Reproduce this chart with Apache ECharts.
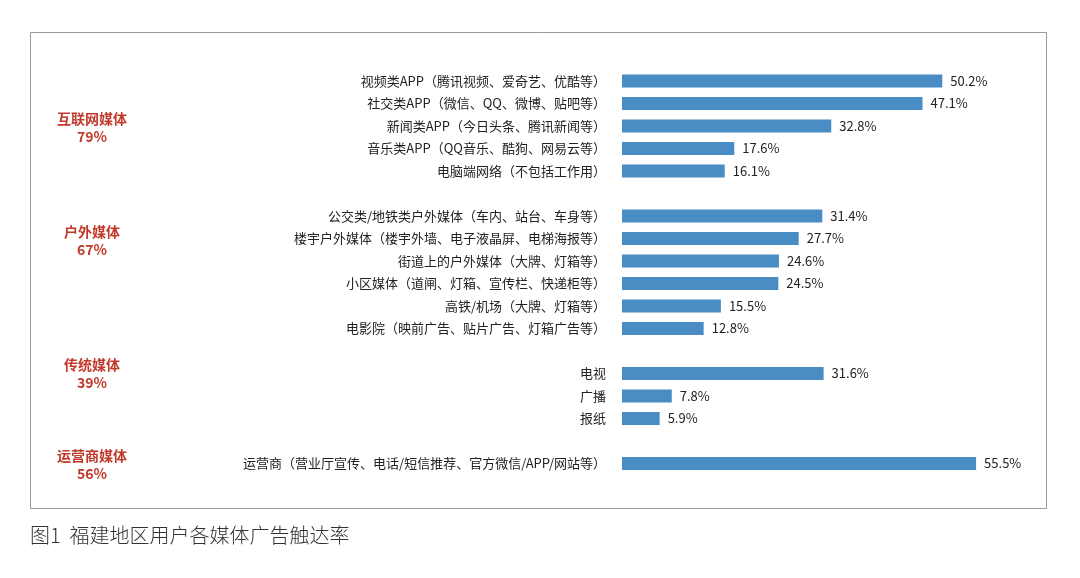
<!DOCTYPE html>
<html>
<head>
	<meta charset="UTF-8">
	<title>福建地区用户各媒体广告触达率</title>
	<script src="https://cdn.jsdelivr.net/npm/echarts@6/dist/echarts.min.js"></script>
	<style>
		html, body { margin: 0; padding: 0; background: #fff; }
		#main { width: 1080px; height: 578px; }
	</style>
</head>
<body>
	<div id="main"></div>
	<script type="text/javascript">
		// 分类（空字符串为分组间隔）
		var categories = [
			'视频类APP（腾讯视频、爱奇艺、优酷等）',
			'社交类APP（微信、QQ、微博、贴吧等）',
			'新闻类APP（今日头条、腾讯新闻等）',
			'音乐类APP（QQ音乐、酷狗、网易云等）',
			'电脑端网络（不包括工作用）',
			' ',
			'公交类/地铁类户外媒体（车内、站台、车身等）',
			'楼宇户外媒体（楼宇外墙、电子液晶屏、电梯海报等）',
			'街道上的户外媒体（大牌、灯箱等）',
			'小区媒体（道闸、灯箱、宣传栏、快递柜等）',
			'高铁/机场（大牌、灯箱等）',
			'电影院（映前广告、贴片广告、灯箱广告等）',
			'  ',
			'电视',
			'广播',
			'报纸',
			'   ',
			'运营商（营业厅宣传、电话/短信推荐、官方微信/APP/网站等）'
		];
		var values = [50.2, 47.1, 32.8, 17.6, 16.1, null, 31.4, 27.7, 24.6, 24.5, 15.5, 12.8, null, 31.6, 7.8, 5.9, null, 55.5];
		// 分组名称与触达率
		var groupNames = ['互联网媒体', '户外媒体', '传统媒体', '运营商媒体'];
		var groupRates = ['79%', '67%', '39%', '56%'];
		var groupY = [110, 223, 356, 447];

		var chart = echarts.init(document.getElementById('main'));

		var graphics = [
			{ type: 'rect', shape: { x: 30.5, y: 32.5, width: 1016, height: 476 },
				style: { fill: 'none', stroke: '#999', lineWidth: 1 } },
			{ type: 'text', left: 30, top: 525,
				style: { text: '图1  福建地区用户各媒体广告触达率', fill: '#333', font: '300 20px "Noto Sans CJK SC"' } }
		];
		for (var i = 0; i < groupNames.length; i++) {
			graphics.push({
				type: 'text', x: 92, y: groupY[i],
				style: {
					text: groupNames[i] + '\n' + groupRates[i], fill: '#c0392b', align: 'center',
					font: 'bold 14px "Noto Sans CJK SC"', lineHeight: 18
				}
			});
		}

		var option = {
			animation: false,
			grid: { left: 622, right: 1080 - 976 - 2, top: 69.75, height: 405, containLabel: false },
			xAxis: { type: 'value', min: 0, max: 55.8, show: false },
			yAxis: {
				type: 'category', inverse: true, data: categories,
				axisLine: { show: false }, axisTick: { show: false },
				axisLabel: { color: '#222', fontSize: 13, margin: 16, fontFamily: 'Noto Sans CJK SC' }
			},
			series: [{
				type: 'bar', data: values, barWidth: 13,
				itemStyle: { color: '#4a8cc4' },
				label: {
					show: true, position: 'right', distance: 8, color: '#222', fontSize: 13,
					fontFamily: 'Noto Sans CJK SC',
					formatter: function (p) { return p.value.toFixed(1) + '%'; }
				}
			}],
			graphic: graphics
		};
		chart.setOption(option);
	</script>
</body>
</html>
